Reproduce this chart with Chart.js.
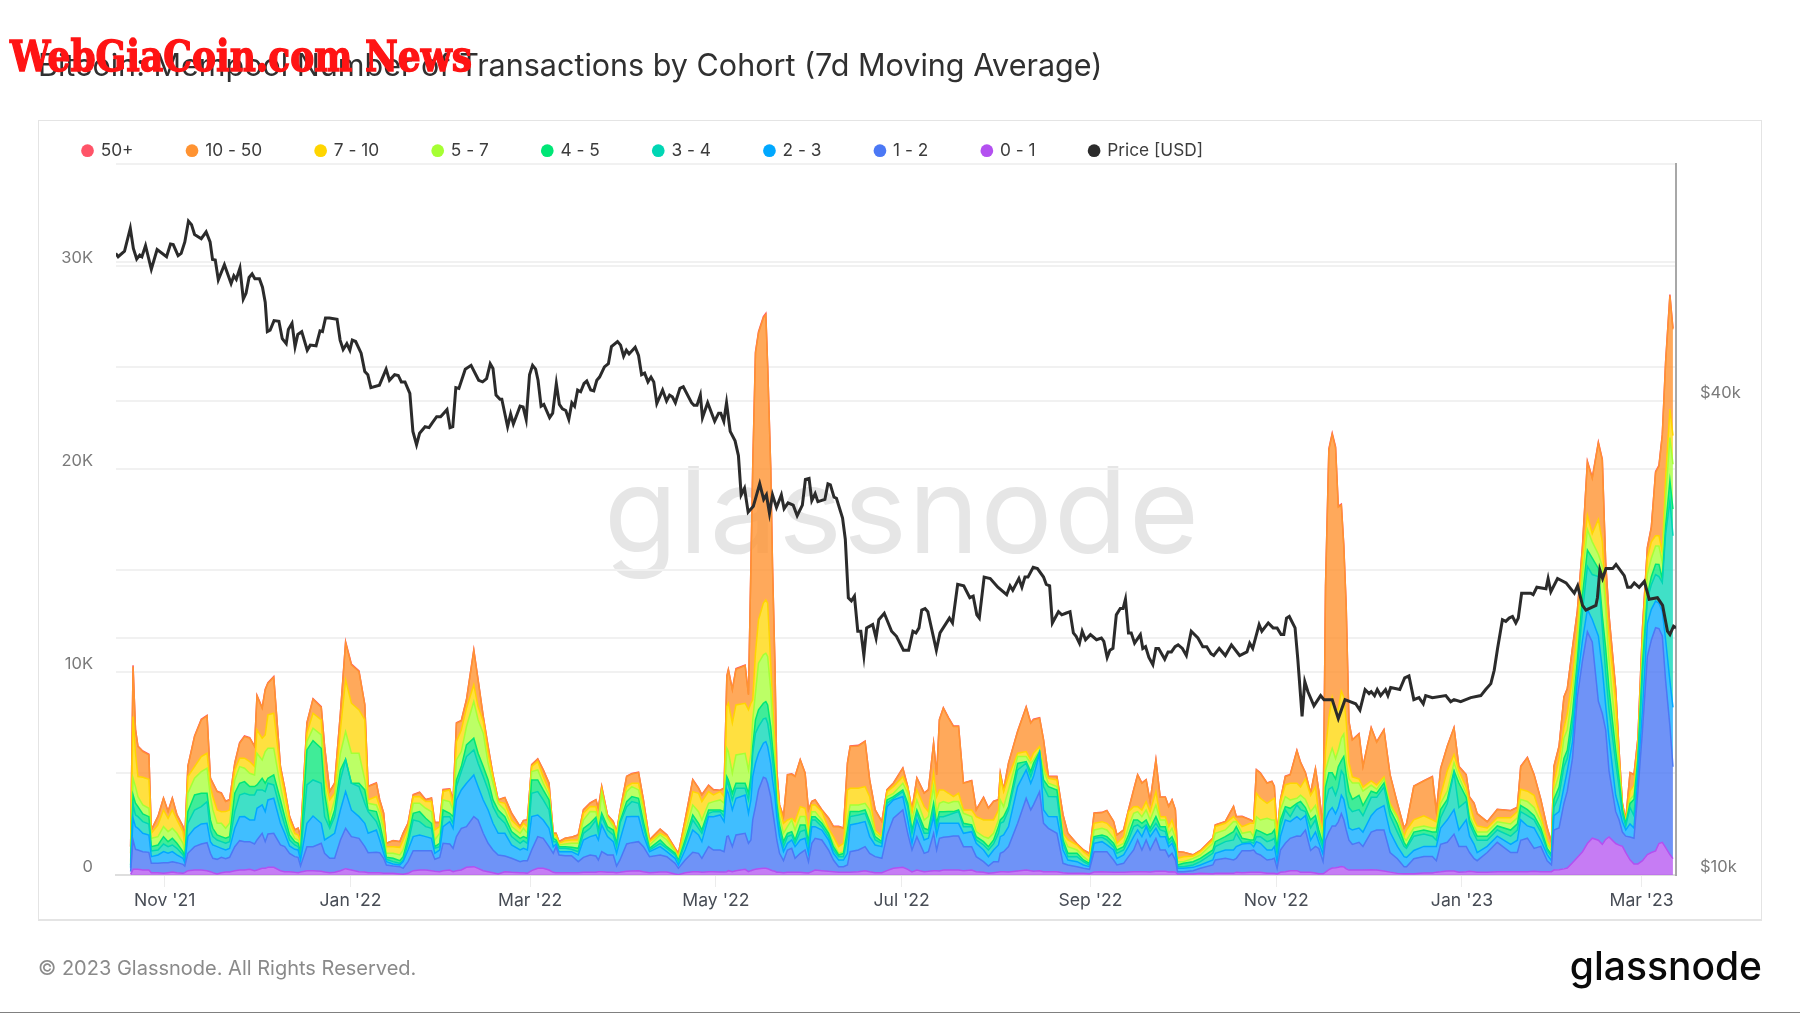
<!DOCTYPE html>
<html>
<head>
<meta charset="utf-8">
<title>Bitcoin Mempool Transactions by Cohort</title>
<script src="https://cdn.jsdelivr.net/npm/chart.js@4/dist/chart.umd.min.js"></script>
<style>
  html, body { margin: 0; padding: 0; background: #fff; }
  body { width: 1800px; height: 1013px; position: relative; overflow: hidden; font-family: Inter, sans-serif; }
  #card { position: absolute; left: 38px; top: 120px; width: 1724px; height: 801px; box-sizing: border-box; border: 1px solid #e4e4e4; border-bottom: 2px solid #e4e4e4; }
  #mark { position: absolute; left: 604px; top: 450px; font: 400 120px/1 Inter, sans-serif; letter-spacing: 1.5px; color: #e6e6e6; }
  #myChart { position: absolute; left: 0; top: 0; }
  #title { position: absolute; left: 38px; top: 47px; font: 400 30.5px/36px Inter, sans-serif; color: #303030; white-space: nowrap; }
  #stamp { position: absolute; left: 10px; top: 30px; font: 700 36px/44px "DejaVu Serif", serif; color: #ff1414; white-space: nowrap; -webkit-text-stroke: 1.2px #ff1414; transform: scaleY(1.18); transform-origin: left top; }
  #copy { position: absolute; left: 38px; top: 955px; font: 400 20px/26px Inter, sans-serif; color: #8a8a8a; white-space: nowrap; }
  #logo { position: absolute; right: 38px; top: 942px; font: 500 39px/48px Inter, sans-serif; color: #0a0a0a; white-space: nowrap; }
  #foot { position: absolute; left: 0; top: 1012px; width: 1800px; height: 1px; background: #808080; }
</style>
</head>
<body>
<div id="card"></div>
<div id="mark">glassnode</div>
<canvas id="myChart" width="1800" height="1013"></canvas>
<div id="title">Bitcoin: Mempool Number of Transactions by Cohort (7d Moving Average)</div>
<div id="stamp">WebGiaCoin.com News</div>
<div id="copy">© 2023 Glassnode. All Rights Reserved.</div>
<div id="logo">glassnode</div>
<div id="foot"></div>
<script>
// x values are days counted from 1 Nov 2021
var tickDays = [0, 61, 120, 181, 242, 304, 365, 426, 485];
var tickLabels = ["Nov '21", "Jan '22", "Mar '22", "May '22", "Jul '22", "Sep '22", "Nov '22", "Jan '23", "Mar '23"];

var days = [-11.2,-10.4,-9.6,-8.8,-7.2,-5.2,-4.4,-2.2,-0.4,1.1,
2.5,4,6,6.6,7.6,9.8,12,13.9,15,15.8,
17.2,18.6,20,21.3,23,24.6,26.2,27.9,29.5,30.3,
32,33,33.9,35.8,38,39.4,41,42.7,43.8,44.6,
46.7,48.7,51.4,52.5,54.2,55.8,57.7,59.4,61.3,63.8,
65.7,66.8,69.5,70.6,71.9,72.8,75,77.2,78.3,79.9,
81.6,83.7,85.7,87.6,88.7,90.3,91.4,93.6,94.7,95.8,
97.4,99.1,101.5,102.9,104.6,106.2,107.8,109.5,111.7,113.9,
116.7,117.8,119.1,120.5,122.5,124.3,126.2,127.6,128.5,129.5,
131.5,133.6,135.8,137.5,139.7,141.6,142.4,143.5,145.4,147.3,
148.4,149.5,151.7,153.4,155.6,157.2,159.2,162.7,164.9,167.6,
168.7,170.9,173.4,175.3,176.4,178.6,180.2,182.4,183.7,184.6,
185.1,186.4,187.6,190.6,191.7,192.5,193.1,194,195,196.6,
197.4,198,199,199.6,200.4,201,201.9,203.2,204.5,205.9,
207,208.7,210.3,211.4,212.5,213.6,215.8,218,219.6,221.3,
222.9,224.2,225.1,227.8,230,231.5,233.3,235.5,237.2,239.3,
242.4,244,245.4,247,249.4,250.8,252.5,253.5,254.4,255.7,
257.4,259,260.7,262.3,265,266.5,268.9,270.5,272.2,273.8,
274.4,275.5,277.1,280.1,282.9,284.4,285.3,287.3,288.6,290.2,
293,295,296.6,299.6,301.7,303.7,305.2,307.8,309.4,311.6,
312.7,314.9,316.5,318.2,319.5,320.9,322.3,323.6,325.5,326.9,
328.6,329.7,330.8,331.9,332.6,334.6,337.7,340.1,344.2,345,
348.3,351,351.9,353.8,356.5,357.6,358.5,359.8,362,363.6,
364.4,365.3,366.4,368,369.6,371.8,373,374.6,376.3,377.9,
379,380.4,381.2,382.3,383.4,384.5,385.4,386.4,387.2,388,
388.9,390,392.2,393.5,396.2,398,400.4,402.4,404.8,407,
407.8,410.2,413.5,416.3,417.6,419,421.2,423.4,425,427.4,
428.5,430,431,434.3,437.6,442,444.2,445.3,447.5,449.7,
451.9,454,455.4,456.2,457.9,459.5,460.6,462.3,463.9,465.6,
467.2,468.8,470.8,472.1,473.2,474.3,476.5,477.6,478.7,479.8,
481.2,482.5,483.8,485.3,486.9,488.2,489.6,490.7,491.8,492.9,
494.3,495.3];

var cohort0to1 = [33,279,279,279,246,246,115,115,82,115,
148,115,82,115,213,246,246,213,164,115,
49,115,148,148,213,246,246,279,213,246,
328,328,378,378,213,164,164,131,115,148,
213,213,181,148,115,131,213,312,246,164,
148,115,115,115,82,82,82,49,33,82,
213,246,246,213,181,164,213,246,164,213,
246,378,411,328,213,164,115,49,164,131,
115,115,82,213,328,328,246,131,115,115,
115,115,115,131,131,131,164,164,131,131,
115,131,181,197,213,164,115,148,148,49,
16,115,164,164,131,164,164,148,148,164,
213,164,213,279,164,213,246,279,312,328,
328,312,246,213,181,131,131,115,131,131,
131,131,115,99,164,246,213,181,164,131,
131,131,131,164,213,164,115,115,213,328,
378,279,148,246,164,181,213,213,197,246,
246,246,246,213,246,164,131,82,115,148,
164,164,148,197,246,213,181,213,164,164,
164,115,82,82,82,66,148,164,148,131,
131,131,148,164,164,164,164,148,181,181,
181,148,164,148,49,49,49,82,66,82,
82,82,131,115,131,131,131,131,82,82,
82,49,131,164,213,213,141,141,141,101,
60,60,141,262,342,362,382,423,402,302,
241,241,241,241,262,241,201,141,80,60,
60,60,101,101,141,161,201,201,141,161,
181,161,141,141,161,161,161,161,161,181,
161,161,161,241,262,302,342,604,865,1147,
1549,1811,1710,1509,1750,1871,1549,1469,1408,1107,
745,543,543,704,1006,1107,1187,1549,1610,1348,
1006,805];

var cohort1to2 = [131,1445,985,952,903,870,460,460,525,493,
509,493,443,328,854,1149,1281,1379,903,706,
722,755,657,722,1182,1445,1396,1363,1314,1478,
1724,1314,1642,1675,1264,1232,903,772,755,296,
1182,1182,1379,920,706,690,1511,1987,1642,1642,
1248,985,1002,985,739,411,361,361,296,575,
985,952,952,985,591,706,1346,1281,1149,1675,
2053,2003,2463,2381,1839,1396,1117,936,772,690,
542,591,624,1018,1560,1478,1149,936,1281,870,
837,837,542,739,854,805,575,985,854,854,
328,608,1346,1396,1429,1232,788,837,755,525,
312,624,952,903,690,1232,1067,1084,1002,1724,
1708,1232,1757,1773,1396,1511,2463,3087,3875,4483,
4433,4204,3612,2988,2200,1593,936,591,1100,1182,
690,936,1117,558,1396,1560,1511,1051,575,279,
279,361,1018,1067,1182,903,788,706,1757,2463,
2824,1773,1084,1642,903,969,1839,1018,1609,1609,
1642,1675,1675,1182,1149,739,525,361,542,509,
903,985,1248,2348,3530,2988,3268,3892,2381,2135,
1888,460,411,328,246,213,1002,985,1002,608,
361,443,755,1067,1560,1067,1560,1084,1626,1051,
1051,755,903,591,115,115,164,246,427,657,
739,657,690,1084,1067,1100,936,854,657,690,
739,279,1100,1396,1593,1708,1771,2072,1066,1308,
1247,604,1569,1851,2072,2052,2233,2595,2314,1911,
1469,1268,1368,1167,1851,1972,2012,966,724,342,
342,744,805,805,563,1348,1408,1811,1268,1247,
926,644,563,966,1449,946,946,1549,1650,1127,
1247,543,342,1972,2052,3219,3783,5131,7887,9416,
10422,9658,6841,6438,5392,3259,1569,1247,704,805,
1127,1268,3581,6438,9758,10462,10986,10583,10161,8209,
6338,4527];

var cohort2to3 = [164,1067,1117,1067,903,854,328,411,542,460,
493,378,296,164,821,903,985,952,575,657,
624,443,427,443,903,1182,1232,1067,1182,1560,
1396,1478,1675,1724,1067,657,361,361,361,296,
1149,1511,985,657,1067,1232,1478,1806,1314,1067,
1149,952,1100,624,246,164,99,82,328,575,
690,772,690,608,296,361,821,1100,985,1806,
1888,2135,2053,1642,1642,1642,1314,1067,1117,657,
575,608,525,1642,1067,903,903,328,131,164,
197,197,328,854,903,1034,985,1314,903,657,
624,985,1346,1281,1232,575,246,411,246,246,
164,493,1100,903,821,1478,1642,1724,1478,2299,
2102,1806,1806,1888,1478,1970,2135,2135,1806,1675,
1806,1806,1642,1478,1478,1149,821,443,328,411,
575,657,575,411,821,575,493,493,328,328,
328,575,1314,1314,1232,821,575,575,1396,903,
657,657,328,821,657,657,821,739,739,690,
657,624,624,657,739,657,575,460,575,821,
821,821,985,1806,1396,1314,1396,1888,657,575,
821,657,246,246,164,131,411,493,328,493,
328,411,493,657,493,657,657,657,493,657,
657,493,493,411,164,164,164,164,246,328,
411,493,575,328,361,164,575,575,493,460,
575,328,657,1149,821,952,805,704,503,704,
302,342,1006,1006,905,604,704,905,1006,905,
604,704,704,704,805,1006,1207,1006,604,503,
463,402,503,503,704,805,1107,1207,805,1308,
805,704,402,302,302,402,604,1006,604,1006,
302,302,201,704,805,805,1006,805,805,1006,
1107,1107,3219,2213,1207,1610,805,604,503,302,
644,503,704,1006,1610,1509,1308,1247,1207,2012,
2213,2917];

var cohort3to4 = [82,657,575,575,575,542,279,246,378,328,
328,328,164,131,657,903,854,1067,575,411,
328,328,328,328,821,1067,1149,1232,1232,903,
739,985,821,657,657,411,296,213,164,246,
1888,1773,1970,1149,411,821,1478,1560,1314,1478,
985,1067,411,493,328,115,115,82,82,328,
821,657,493,493,246,164,493,246,246,657,
903,1314,1232,1149,1149,985,821,821,493,411,
328,378,328,1149,1149,985,903,246,115,164,
164,115,164,328,411,739,328,411,328,328,
328,821,493,739,657,411,82,164,164,164,
164,328,493,328,411,164,246,164,246,493,
411,493,493,328,657,821,1149,1478,1314,1199,
1149,1149,985,985,657,328,328,246,328,246,
164,411,411,328,328,328,164,164,164,164,
164,821,411,411,411,575,246,164,164,82,
246,657,493,328,328,246,328,328,328,328,
411,493,575,328,246,164,246,328,296,575,
657,657,821,821,328,328,411,33,1149,985,
985,328,164,246,164,82,246,213,246,164,
246,246,328,493,246,411,82,246,246,328,
246,164,164,164,82,82,115,164,328,328,
411,493,657,66,82,164,246,328,411,493,
411,411,493,493,246,575,503,201,604,604,
302,302,805,1107,1006,905,1006,1207,1207,805,
1006,905,905,805,905,604,905,805,704,503,
443,704,604,503,302,503,805,1811,1107,905,
604,503,604,302,302,402,503,402,503,402,
402,201,201,402,805,1006,604,805,604,1408,
2113,2213,2917,2012,1610,1408,1610,1006,402,201,
805,604,704,1811,1207,1207,1308,1308,1408,5231,
8853,8450];

var cohort4to5 = [82,493,575,493,378,361,213,246,361,246,
328,246,164,131,575,739,657,411,493,411,
246,246,246,246,903,575,575,411,411,246,
575,411,246,493,493,411,246,164,164,164,
1724,1938,1724,1149,164,328,493,33,0,164,
657,82,493,328,246,99,164,131,164,246,
328,493,411,246,82,164,328,164,328,328,
246,575,575,493,493,493,328,328,328,246,
246,197,246,657,575,493,493,164,82,82,
82,99,164,246,246,131,164,164,164,246,
164,82,246,246,246,246,82,164,82,82,
49,164,246,246,164,164,82,82,246,164,
246,328,246,246,328,328,328,657,821,772,
821,903,821,657,493,328,246,246,164,164,
164,328,246,246,164,164,164,164,164,82,
164,328,246,164,164,164,164,82,164,82,
82,164,164,164,246,164,328,246,246,246,
164,82,82,164,82,164,164,164,197,328,
164,246,164,328,82,246,246,49,328,493,
328,164,164,164,82,82,82,115,164,164,
164,164,246,328,246,246,246,164,328,164,
246,164,164,164,82,164,164,164,164,246,
246,411,328,213,82,164,328,246,328,328,
411,246,328,164,411,82,402,201,402,201,
302,201,805,805,704,805,1006,503,905,1006,
805,604,704,503,302,201,201,302,402,201,
101,201,201,201,402,402,201,101,1207,201,
201,201,201,201,201,302,302,302,302,201,
201,101,101,402,402,402,402,604,402,805,
805,805,402,604,1207,1006,604,402,201,101,
201,805,201,402,201,402,503,604,201,402,
1006,1308];

var cohort5to7 = [164,821,821,493,443,411,411,411,493,493,
493,493,411,197,903,821,1067,1232,1149,903,
575,657,493,657,657,821,657,657,575,1560,
903,1560,1478,1314,657,493,328,164,164,246,
411,608,657,411,411,493,821,1363,1478,1478,
493,328,328,493,575,197,246,279,328,246,
493,411,493,575,328,493,493,575,328,985,
739,903,1806,1642,1642,821,821,328,328,246,
246,411,246,411,493,328,246,82,82,82,
131,197,246,411,575,279,328,985,411,164,
328,246,493,493,411,493,164,246,328,82,
115,328,493,575,493,328,411,493,411,1396,
1396,985,1396,1478,1149,1149,1314,1314,2299,2381,
2381,2381,1806,1314,657,493,411,411,328,575,
493,411,411,246,246,246,164,82,164,82,
82,575,328,328,328,575,164,164,164,164,
328,493,493,493,411,657,821,493,411,493,
411,493,411,493,411,246,246,411,328,328,
985,493,821,328,246,411,164,82,493,164,
164,164,328,164,164,82,328,328,328,246,
164,164,411,328,411,328,493,411,575,328,
328,328,411,328,164,82,164,164,328,411,
328,493,246,246,411,164,657,575,821,657,
493,246,493,493,411,246,302,402,402,503,
503,302,805,704,1207,1006,805,1107,1107,604,
604,805,604,704,302,201,201,201,302,201,
302,201,201,201,201,302,402,402,302,201,
201,201,201,201,201,302,302,302,402,402,
302,201,201,402,604,1006,1006,1006,805,1006,
1006,805,704,2414,2012,1408,1006,604,101,40,
201,201,302,805,1006,905,905,905,805,1408,
2113,2213];

var cohort7to10 = [411,3038,1642,985,1363,1429,246,575,821,657,
903,657,575,328,821,575,739,739,493,657,
657,575,821,657,493,411,493,575,411,1149,
1067,821,1642,1724,739,657,411,246,246,246,
411,739,739,411,821,328,1149,2545,2463,2135,
2956,164,411,328,328,328,328,378,493,246,
328,328,328,493,493,328,411,575,164,903,
1067,903,821,657,575,493,328,82,328,328,
246,246,328,246,411,328,246,82,164,82,
164,164,164,328,246,246,164,164,82,131,
164,164,246,164,328,246,164,82,164,82,
82,411,657,903,903,575,328,411,328,2053,
2381,2463,2463,2463,2956,2463,985,1970,2135,2545,
2627,2627,1314,985,657,493,493,493,328,82,
411,493,411,328,328,328,411,164,328,328,
411,1396,821,821,821,657,164,82,246,328,
328,246,411,493,657,246,657,821,657,575,
493,246,411,164,328,739,821,903,657,493,
1149,739,657,164,246,164,328,164,164,246,
328,164,328,246,246,246,328,328,328,411,
164,328,739,328,246,328,411,411,657,164,
164,328,411,328,164,246,115,164,164,328,
328,246,82,328,411,657,1149,1067,739,985,
1067,328,411,575,821,739,402,1006,805,905,
201,302,1006,2012,2515,2414,2012,2314,1811,2012,
805,302,201,201,201,201,101,101,101,101,
503,402,503,402,302,402,1006,402,302,302,
604,302,302,201,201,302,302,503,503,604,
302,201,101,402,805,503,805,805,604,805,
704,402,1710,1207,402,1207,1408,402,101,60,
402,503,302,402,805,805,503,503,503,1006,
1408,1408];

var cohort10to50 = [328,2463,1149,1478,1264,1199,164,411,575,328,
575,246,246,411,493,1478,1806,1839,411,657,
903,903,493,493,328,739,1067,1149,985,1675,
1478,2217,1560,1773,246,246,164,164,328,246,
493,690,624,1478,411,493,821,1839,1888,1888,
739,657,657,328,493,164,296,279,328,246,
82,197,82,164,361,197,82,33,328,903,
443,411,1691,1314,246,328,82,82,279,328,
82,131,328,82,115,328,328,82,82,82,
115,131,246,164,164,328,575,164,82,115,
82,82,493,460,525,328,82,197,82,82,
164,246,575,246,328,296,246,49,411,1478,
1642,1642,1757,1855,739,6716,11478,14778,14121,14039,
14039,11658,9671,6552,3941,657,82,328,2217,2167,
2217,2299,1724,985,164,246,82,493,493,985,
739,1314,2053,2085,2217,821,985,739,82,164,
411,82,82,575,657,1067,1478,1067,3448,4023,
3695,3448,3284,1314,1429,328,1100,575,903,493,
164,82,657,1067,2184,1806,1642,1396,1314,82,
164,903,328,49,82,164,493,443,624,411,
411,328,82,821,1560,1314,1067,493,1560,952,
952,985,985,1067,328,213,49,49,82,82,
82,493,164,493,164,82,1149,1232,985,903,
575,164,82,411,411,1609,1207,302,101,905,
1207,201,8048,13179,12937,12877,9959,9155,7444,5634,
2012,1811,2213,1006,2616,2113,2314,1408,604,402,
302,1650,1710,2113,503,1308,1207,1308,201,604,
302,805,604,302,402,342,201,1107,1650,1006,
805,604,302,805,604,1509,1207,1408,1006,604,
2616,2716,3762,4024,1811,1006,604,402,101,101,
905,503,402,604,503,704,3119,3420,5734,5634,
5573,5231];

var cohort50plus = [10,60,40,30,30,30,10,20,20,20,
20,20,20,20,20,30,30,30,20,20,
20,20,20,20,20,30,30,30,20,30,
30,30,30,30,20,20,15,15,15,15,
30,30,30,20,15,15,20,40,40,30,
30,20,20,15,15,10,10,10,10,15,
20,20,20,20,15,15,20,20,20,30,
30,30,40,30,20,20,15,15,15,15,
15,15,15,20,25,25,20,15,10,10,
10,10,15,15,20,20,20,20,15,15,
15,15,20,20,20,15,10,15,15,10,
10,15,20,20,20,20,20,20,20,30,
30,30,30,30,30,40,50,60,60,60,
60,60,50,40,30,20,15,15,20,20,
20,20,20,15,15,15,15,15,15,15,
15,20,30,30,30,20,15,15,15,15,
20,15,15,20,20,20,25,20,30,30,
30,30,30,20,20,15,20,20,20,20,
20,20,20,25,30,25,30,30,20,20,
20,15,10,10,10,10,15,15,15,15,
10,10,15,20,20,20,20,15,20,20,
20,15,15,15,10,10,10,10,10,10,
10,15,10,15,15,15,20,20,20,20,
20,10,15,20,20,25,20,20,15,20,
15,10,30,50,60,60,50,50,50,40,
20,20,20,15,20,20,20,20,15,10,
10,15,15,20,15,20,20,20,15,15,
15,15,10,10,15,15,15,20,20,15,
15,10,10,20,20,20,20,30,30,40,
50,50,50,50,40,30,20,15,10,10,
20,20,20,30,40,40,50,50,60,60,
60,60];

var priceDays = [-16.1,-15.3,-13.2,-11.3,-10.3,-9.2,-8.2,-7.5,-6.3,-4.4,-2.5,0.6,1.9,2.8,4.4,5.4,6.6,7.8,8.8,9.8,
12,13.6,14.9,15.7,16.6,17.6,19.6,21.8,22.7,23.5,24.7,25.8,26.7,27.7,28.7,29.6,31.1,32.1,33,33.7,
34.6,35.9,37.5,38.6,39.9,40.6,41.8,42.8,43.7,45,46.8,47.8,49.7,51,51.8,52.8,54.1,56.6,57.6,58.6,
59.8,60.8,61.6,62.7,64.5,65.7,66.7,67.7,70.5,72.7,73.8,75.5,76.7,77.7,78.9,80.5,81.5,82.7,83.7,85.5,
86.8,87.8,89.3,90.6,92.7,93.7,94.6,95.6,96.6,98.7,100.6,103.1,104.4,105.7,106.9,107.8,108.8,110.1,110.7,112.6,
113.6,114.5,116.7,117.7,118.7,119.8,120.8,121.8,122.6,123.6,124.5,126.4,127.4,128.6,129.6,130.6,131.7,132.7,133.7,134.6,
135.6,136.6,137.7,138.6,139.9,140.9,141.9,142.8,144.4,145.7,146.7,148.7,149.7,150.7,151.6,152.5,154.5,155.6,156.6,157.6,
158.7,159.7,160.6,161.6,163.5,164.8,165.8,166.7,167.7,169.2,170.3,173,173.8,174.8,175.9,176.6,178.3,180.6,181.9,182.6,
183.6,184.5,185.7,187.3,188.4,189.3,190.4,191.6,193.3,195.4,196.7,197.6,198.6,199.6,200.9,202.5,203.4,204.7,206.4,207.7,
209.4,210.4,211.6,212.5,213.6,214.5,216.8,217.8,218.6,219.8,220.6,222.6,223.5,224.5,225.5,226.5,227.6,228.6,229.6,230.5,
232.5,233.6,234.5,236.3,238.7,240.3,242.6,244.3,245.7,246.7,247.7,248.6,249.7,250.6,253.4,254.6,257.7,258.7,260.4,262.4,
264.4,265.5,266.7,267.5,269.1,271.1,273.6,276.5,277.6,278.5,280.5,281.5,282.5,283.5,285.2,286.6,288.6,289.5,290.6,291.5,
293.5,294.6,295.9,297.3,298.4,299.3,300.4,301.3,302.4,304,306,307.6,308.4,309.5,310.4,311.4,312.5,313.8,314.7,315.5,
316.5,317.4,318.5,320.4,321.2,322.1,323.2,324.5,325.5,326.4,328.4,329.5,330.6,331.8,332.8,334.2,335.5,337.1,339.3,340.9,
342.2,343.6,344.5,346.3,348.3,350.3,353,355.4,356.3,357.3,359.4,360.3,362.4,364,365.3,366.6,367.5,368.4,369.3,371.2,
372.1,373.1,373.5,374.4,375.4,377.4,379.6,380.7,383.4,385.4,387.6,391.1,392.5,394.2,395.5,396.2,397.3,398.2,399.3,400.9,
401.7,402.6,405.6,407.2,408.6,410.2,411.9,413.3,414.1,416.3,420.7,422.3,423.4,425.6,428.9,432.2,433.8,435.5,436.6,437.7,
439.3,440.4,441.5,442.6,443.7,444.5,445.6,448.6,449.4,450.6,453.6,454.3,455.2,457.4,460.2,462.9,464,465.6,466.7,470,
470.5,471.3,472.2,473.3,475.5,476.6,479.3,480.4,481.5,482.6,484.2,485.9,487.5,490.2,491.9,493.5,494.3,495.5,496.3];

var priceValues = [61600,61000,62000,66300,62500,60600,61300,61000,63000,58800,62300,61000,63300,63200,61200,61600,63700,67700,67000,65100,
64300,65600,63700,60500,60400,57000,59600,56400,57700,57100,59000,53900,54800,57400,58000,57200,57200,55800,53400,49000,
49200,50600,50500,48000,47300,49300,50200,46900,48600,49000,46400,47100,47000,49100,49000,51000,51000,50800,47800,46500,
47300,46400,47800,47600,46000,43600,43200,41600,41900,43900,42500,43200,43100,42300,42300,40900,36600,35200,36400,37100,
37000,37500,38200,38200,39000,37000,37100,41600,41500,43900,44400,42500,42300,42700,44600,44000,40700,40200,40200,37100,
38500,37400,39400,39300,37900,43200,44400,43900,42500,39400,39600,38100,38600,42100,39600,39100,38900,37900,39800,39400,
41300,41100,42100,42400,41300,41200,42500,42900,44200,44600,46900,47600,47100,45600,46400,45900,46800,45700,43200,43400,
42300,42900,42300,39700,41300,40000,40700,40500,39800,41500,41700,39800,39500,39500,40700,38100,39800,37700,38600,38600,
37700,39800,36600,35600,34100,30400,31000,28900,29400,31400,30000,30400,28800,30400,29300,30400,29200,29700,29500,28600,
29500,31800,31900,29900,30500,29800,30000,31400,31300,30200,30100,28400,26700,22500,22300,22600,20400,20400,19000,20600,
20800,20000,21100,21500,20400,20100,19300,19300,20400,20300,20600,21700,21800,21600,19300,20300,21200,20900,23400,23300,
22500,22600,21400,21200,23900,23800,23200,22700,23300,23000,23800,23200,23900,23900,24600,24500,23900,23400,23300,20900,
21600,21400,21500,21600,20300,20100,19700,20400,19900,20200,19900,20000,19800,18900,19300,19400,21400,21800,21800,22400,
20300,20300,19700,20200,19400,19500,18900,18500,19400,19400,18800,19200,19200,19500,19600,19400,19000,20400,20000,19500,
19500,19100,19000,19400,19000,19600,19000,19200,19700,19400,20800,20400,20900,20600,20600,20200,20200,21200,21300,20600,
18800,16700,15900,17600,17100,16400,16900,16700,16700,15800,16700,16500,16200,17200,17000,17100,16900,17200,16900,17200,
16900,17300,17200,17800,17900,16700,16800,16500,16900,16800,16900,16600,16700,16600,16800,16900,17200,17500,18200,19400,
21100,21000,21200,21300,20900,21200,22800,22800,22700,23200,23100,23800,22900,23800,23500,22800,23300,22000,21700,22000,
22500,24400,23800,24500,24500,24800,24000,23200,23200,23500,23200,23600,22400,22500,22000,20400,20200,20700,20600];

var cohortNames = ["0 - 1", "1 - 2", "2 - 3", "3 - 4", "4 - 5", "5 - 7", "7 - 10", "10 - 50", "50+"];
var cohortSeries = [cohort0to1, cohort1to2, cohort2to3, cohort3to4, cohort4to5, cohort5to7, cohort7to10, cohort10to50, cohort50plus];
var lineColors = ["#b350f0", "#4b78f5", "#00a8ff", "#00d6b4", "#00e676", "#a6ff33", "#ffd500", "#ff9332", "#ff5468"];
var fillColors = ["rgba(179,80,240,.75)", "rgba(75,120,245,.8)", "rgba(0,168,255,.75)", "rgba(0,214,180,.75)", "rgba(0,230,118,.75)", "rgba(166,255,51,.75)", "rgba(255,213,0,.75)", "rgba(255,147,50,.8)", "rgba(255,84,104,.8)"];

var datasets = [{
  label: "Price [USD]",
  yAxisID: "y2",
  data: priceDays.map(function (d, i) { return { x: d, y: priceValues[i] }; }),
  borderColor: "#2b2b2b",
  backgroundColor: "#2b2b2b",
  borderWidth: 3,
  pointRadius: 0,
  tension: 0,
  fill: false
}];
cohortNames.forEach(function (name, i) {
  datasets.push({
    label: name,
    yAxisID: "y",
    data: days.map(function (d, k) { return { x: d, y: cohortSeries[i][k] }; }),
    borderColor: lineColors[i],
    backgroundColor: fillColors[i],
    borderWidth: 1.5,
    pointRadius: 0,
    tension: 0,
    fill: i === 0 ? "origin" : "-1"
  });
});

Chart.defaults.font.family = "Inter, sans-serif";

var legendRoom = {
  id: "legendRoom",
  beforeInit: function (chart) {
    var fit = chart.legend.fit;
    chart.legend.fit = function () {
      fit.call(this);
      this.height = 76;
    };
  }
};

new Chart(document.getElementById("myChart"), {
  type: "line",
  data: { datasets: datasets },
  plugins: [legendRoom],
  options: {
    responsive: false,
    animation: false,
    parsing: { xAxisKey: "x", yAxisKey: "y" },
    layout: { padding: { left: 29, right: 38, top: 88, bottom: 92 } },
    plugins: {
      tooltip: { enabled: false },
      legend: {
        position: "top",
        align: "start",
        reverse: true,
        labels: {
          usePointStyle: true,
          pointStyle: "circle",
          boxWidth: 9,
          boxHeight: 9,
          padding: 54,
          color: "#3c3c3c",
          font: { size: 17.3 },
          generateLabels: function (chart) {
            var items = Chart.defaults.plugins.legend.labels.generateLabels(chart);
            items.forEach(function (it) { it.fillStyle = it.strokeStyle; it.lineWidth = 0; });
            return items;
          }
        }
      }
    },
    scales: {
      x: {
        type: "linear",
        min: -16,
        max: 496.3,
        afterBuildTicks: function (axis) { axis.ticks = tickDays.map(function (d) { return { value: d }; }); },
        afterFit: function (axis) { axis.height = 46; },
        grid: { drawOnChartArea: false, tickLength: 12, tickColor: "#ececec", tickWidth: 1 },
        border: { color: "#dedede", width: 2 },
        ticks: {
          autoSkip: false,
          maxRotation: 0,
          padding: 3,
          color: "#474c55",
          font: { size: 17.6 },
          callback: function (v) { return tickLabels[tickDays.indexOf(v)]; }
        }
      },
      y: {
        type: "linear",
        stacked: true,
        position: "left",
        min: 0,
        max: 35000,
        afterFit: function (axis) { axis.width = 87; },
        grid: { color: "#f1f1f1", lineWidth: 2, drawTicks: false },
        border: { display: false },
        ticks: {
          stepSize: 5000,
          padding: 23,
          labelOffset: -8,
          color: "#7a7a7a",
          font: { size: 16.5 },
          callback: function (v) { return v === 0 ? "0" : (v % 10000 === 0 ? v / 1000 + "K" : ""); }
        }
      },
      y2: {
        type: "logarithmic",
        position: "right",
        min: 10000,
        max: 80000,
        afterBuildTicks: function (axis) { axis.ticks = [10000, 20000, 40000, 60000, 80000].map(function (v) { return { value: v }; }); },
        afterFit: function (axis) { axis.width = 86; },
        grid: { color: "#f1f1f1", lineWidth: 2, drawTicks: false },
        border: { color: "#a8a8a8", width: 2 },
        ticks: {
          autoSkip: false,
          padding: 24,
          labelOffset: -8,
          color: "#7a7a7a",
          font: { size: 16.5 },
          callback: function (v) { return v === 10000 ? "$10k" : (v === 40000 ? "$40k" : ""); }
        }
      }
    }
  }
});
</script>
</body>
</html>
